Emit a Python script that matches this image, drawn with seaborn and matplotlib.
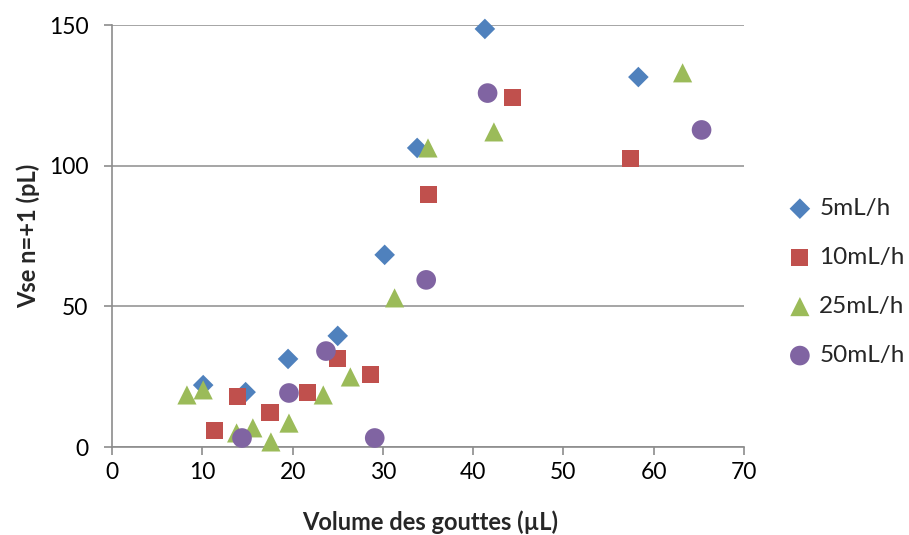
import matplotlib
matplotlib.use("Agg")
import matplotlib.pyplot as plt
import seaborn as sns
import pandas as pd

series_names = ["5mL/h", "10mL/h", "25mL/h", "50mL/h"]

x_5 = [10.1, 14.8, 19.5, 25.0, 30.2, 33.8, 41.3, 58.3]
y_5 = [22.0, 19.5, 31.3, 39.5, 68.3, 106.3, 148.6, 131.5]

x_10 = [11.3, 13.9, 17.5, 21.6, 25.0, 28.6, 35.1, 44.4, 57.4]
y_10 = [5.7, 18.1, 12.4, 19.2, 31.6, 25.6, 89.6, 124.4, 102.7]

x_25 = [8.3, 10.1, 13.8, 15.6, 17.6, 19.6, 23.4, 26.4, 31.3, 35.0, 42.3, 63.2]
y_25 = [18.5, 20.3, 5.0, 6.8, 1.8, 8.5, 18.5, 24.9, 53.0, 106.3, 112.0, 133.0]

x_50 = [14.4, 19.6, 23.7, 29.1, 34.8, 41.6, 65.3]
y_50 = [3.2, 19.2, 34.1, 3.2, 59.4, 125.8, 112.7]

xs = [x_5, x_10, x_25, x_50]
ys = [y_5, y_10, y_25, y_50]

rows = []
for name, xv, yv in zip(series_names, xs, ys):
    for a, b in zip(xv, yv):
        rows.append({"x": a, "y": b, "series": name})
df = pd.DataFrame(rows)

sns.set_style("white")
plt.rcParams['font.family'] = ['Lato', 'DejaVu Sans']

colors = {"5mL/h": "#4F81BD", "10mL/h": "#C0504D", "25mL/h": "#9BBB59", "50mL/h": "#8064A2"}
markers = {"5mL/h": "D", "10mL/h": "s", "25mL/h": "^", "50mL/h": "o"}
sizes = {"5mL/h": 110, "10mL/h": 150, "25mL/h": 190, "50mL/h": 200}

fig = plt.figure(figsize=(9.09, 5.35), dpi=100)
ax = fig.add_axes([112/909, 1 - 447/535, (744-112)/909, (447-25)/535])

for name in series_names:
    sub = df[df["series"] == name]
    sns.scatterplot(data=sub, x="x", y="y", ax=ax, color=colors[name],
                    marker=markers[name], s=sizes[name], edgecolor="none",
                    label=name, zorder=3, clip_on=False)

ax.set_xlim(0, 70)
ax.set_ylim(0, 150)
ax.set_xticks(range(0, 71, 10))
ax.set_yticks([0, 50, 100, 150])
ax.yaxis.grid(True, color="#969696", linewidth=1.2)
ax.xaxis.grid(False)
ax.set_axisbelow(True)
for sp in ["top", "right"]:
    ax.spines[sp].set_visible(False)
for sp in ["left", "bottom"]:
    ax.spines[sp].set_color("#8c8c8c")
    ax.spines[sp].set_linewidth(1.2)
ax.tick_params(axis="both", which="both", direction="out", length=6, width=1.2,
               color="#8c8c8c", labelsize=16.5, labelcolor="black", bottom=True, left=True)
ax.tick_params(axis="x", pad=5)
ax.tick_params(axis="y", pad=11)
ax.set_xlabel("Volume des gouttes (µL)", fontsize=17, fontweight="bold")
ax.set_ylabel("Vse n=+1 (pL)", fontsize=17, fontweight="bold")
ax.xaxis.set_label_coords((430-112)/632, (447-510)/422)
ax.yaxis.set_label_coords((40-112)/632, 0.5)

leg = ax.legend(loc="center left", frameon=False, fontsize=17.5,
                handlelength=1.0, handletextpad=0.3, labelspacing=1.15,
                borderaxespad=0, borderpad=0.4)
leg.set_bbox_to_anchor((778/909, 1 - 282/535), transform=fig.transFigure)

fig.savefig("out.png", dpi=100)
